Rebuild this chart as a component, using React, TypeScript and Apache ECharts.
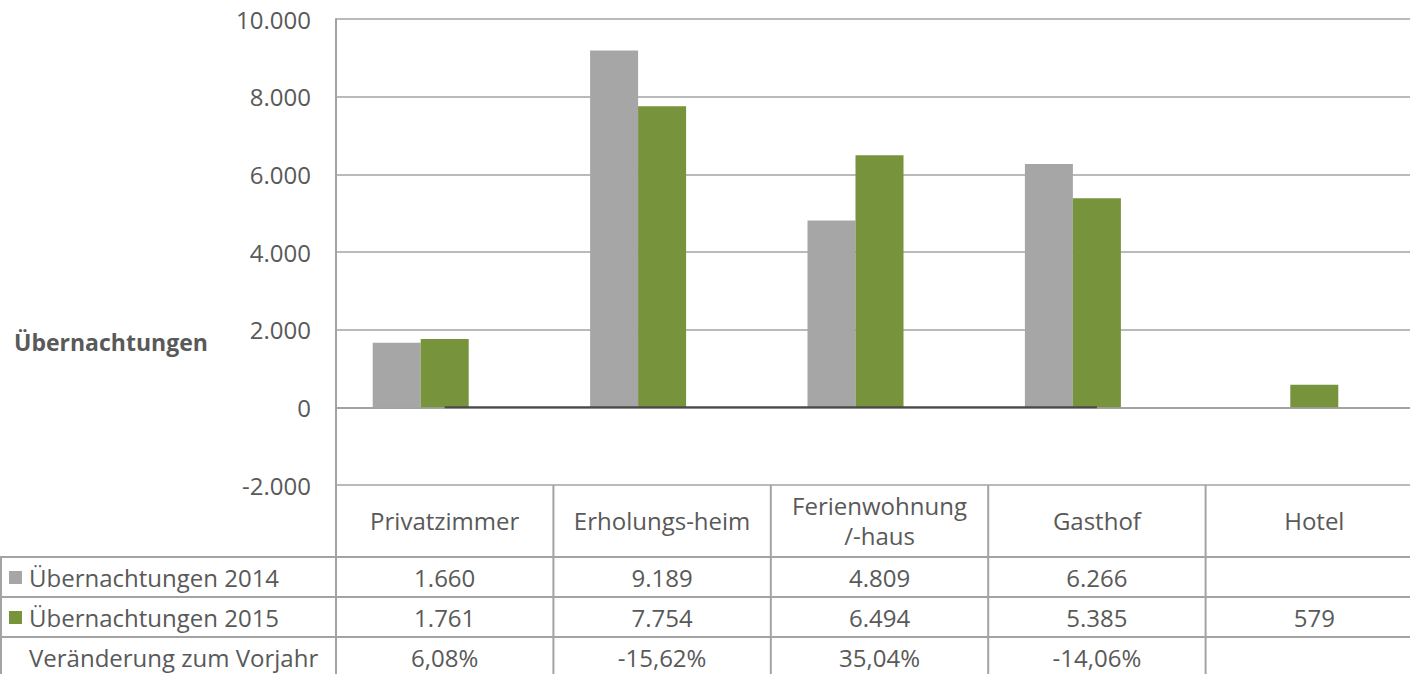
import React, { useEffect, useRef } from "react";
import * as echarts from "echarts";

const categories = ["Privatzimmer", "Erholungs-heim", "Ferienwohnung\n/-haus", "Gasthof", "Hotel"];
const values2014: (number | null)[] = [1660, 9189, 4809, 6266, null];
const values2015: (number | null)[] = [1761, 7754, 6494, 5385, 579];
const change: (number | null)[] = [0.0608, -0.1562, 0.3504, -0.1406, null];
const changeLabels = ["6,08%", "-15,62%", "35,04%", "-14,06%", ""];
const seriesNames = ["Übernachtungen 2014", "Übernachtungen 2015", "Veränderung zum Vorjahr"];
const axisTitle = "Übernachtungen";
const yMin = -2000;
const yMax = 10000;
const yStep = 2000;

const GRAY = "#A6A6A6";
const GREEN = "#77933C";
const LINE = "#4A4A4A";
const TEXT = "#595959";
const BORDER = "#A3A3A3";
const FONT = "'Open Sans', Lato, sans-serif";
const FS = 24;

const fmt = (v: number | null) =>
  v === null ? "" : String(v).replace(/\B(?=(\d{3})+(?!\d))/g, ".");

export default function App() {
  const ref = useRef<HTMLDivElement>(null);
  useEffect(() => {
    document.body.style.margin = "0";
    document.body.style.overflow = "hidden";
    const chart = echarts.init(ref.current!, null, { renderer: "svg" });
    const gridLeft = 336;
    const gridTop = 19;
    const gridBottomY = 485;
    const H = 674;
    chart.setOption({
      animation: false,
      textStyle: { fontFamily: FONT },
      grid: { left: gridLeft, top: gridTop, right: 0, bottom: H - gridBottomY, containLabel: false },
      xAxis: {
        type: "category",
        data: categories,
        axisLine: { show: true, lineStyle: { color: BORDER, width: 2 } },
        axisTick: { show: false },
        splitLine: { show: false },
        axisLabel: {
          interval: 0,
          margin: 35,
          verticalAlign: "middle",
          fontSize: FS,
          lineHeight: 30,
          color: TEXT,
          fontFamily: FONT,
        },
      },
      yAxis: {
        type: "value",
        min: yMin,
        max: yMax,
        interval: yStep,
        axisLine: { show: true, lineStyle: { color: BORDER, width: 2 } },
        axisTick: { show: false },
        splitLine: { show: true, lineStyle: { color: BORDER, width: 1.5 } },
        axisLabel: {
          margin: 25,
          fontSize: FS,
          color: TEXT,
          fontFamily: FONT,
          formatter: (v: number) => (v < 0 ? "-" + fmt(-v) : fmt(v)),
        },
      },
      series: [
        {
          name: seriesNames[0],
          type: "bar",
          data: values2014,
          barWidth: 48,
          barGap: "0%",
          itemStyle: { color: GRAY },
        },
        {
          name: seriesNames[1],
          type: "bar",
          data: values2015,
          barWidth: 48,
          barGap: "0%",
          itemStyle: { color: GREEN },
        },
        {
          // empty third slot (as in the source chart, the bar group keeps room for a third series)
          name: "slot",
          type: "bar",
          data: [],
          barWidth: 48,
          barGap: "0%",
          silent: true,
        },
        {
          name: seriesNames[2],
          type: "line",
          data: change,
          symbol: "none",
          z: 5,
          lineStyle: { color: LINE, width: 2 },
        },
      ],
    });

    const centers = categories.map((_, i) => chart.convertToPixel({ xAxisIndex: 0 }, i) as number);
    const catW = centers.length > 1 ? centers[1] - centers[0] : 217;
    const bounds = [gridLeft, ...centers.map((c) => c + catW / 2)];
    const rowLines = [557, 597, 637];
    const rowCenters = [577, 617, 657];
    const W = 1430;
    const graphic: any[] = [];
    const ln = (x1: number, y1: number, x2: number, y2: number) =>
      graphic.push({
        type: "line",
        silent: true,
        shape: { x1, y1, x2, y2 },
        style: { stroke: BORDER, lineWidth: 2 },
      });
    ln(gridLeft, gridBottomY, gridLeft, H);
    bounds.slice(1, bounds.length - 1).forEach((x) => ln(x, gridBottomY, x, H));
    rowLines.forEach((y) => ln(0, y, W, y));
    ln(1, rowLines[0], 1, H);
    const txt = (text: string, x: number, y: number, align: string, weight = "normal", size = FS) =>
      graphic.push({
        type: "text",
        silent: true,
        x,
        y,
        style: {
          text,
          align,
          verticalAlign: "middle",
          fill: TEXT,
          fontSize: size,
          fontWeight: weight,
          fontFamily: FONT,
        },
      });
    txt(axisTitle, 14, 342, "left", "bold", 23);
    graphic.push({ type: "rect", silent: true, shape: { x: 9, y: 571, width: 13, height: 13 }, style: { fill: GRAY } });
    graphic.push({ type: "rect", silent: true, shape: { x: 9, y: 611, width: 13, height: 13 }, style: { fill: GREEN } });
    txt(seriesNames[0], 29, rowCenters[0], "left");
    txt(seriesNames[1], 29, rowCenters[1], "left");
    txt(seriesNames[2], 29, rowCenters[2], "left");
    centers.forEach((c, i) => {
      txt(fmt(values2014[i]), c, rowCenters[0], "center");
      txt(fmt(values2015[i]), c, rowCenters[1], "center");
      txt(changeLabels[i], c, rowCenters[2], "center");
    });
    chart.setOption({ graphic });
    return () => chart.dispose();
  }, []);
  return (
    <div
      ref={ref}
      style={{ position: "absolute", left: 0, top: 0, width: 1423, height: 674 }}
    />
  );
}
